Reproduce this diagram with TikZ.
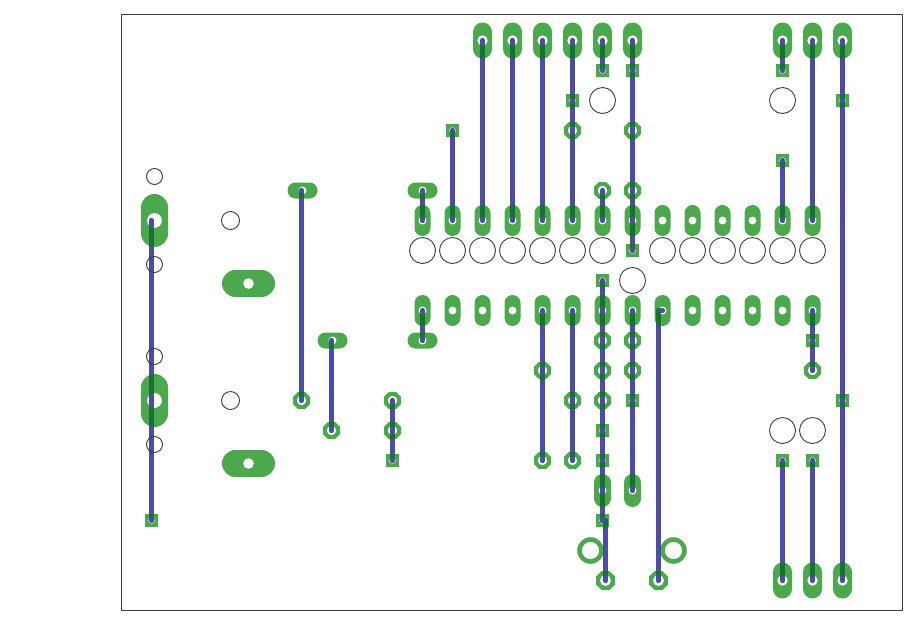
\documentclass[tikz,border=0pt]{standalone}
\definecolor{trackblue}{RGB}{75,75,170}
\definecolor{padgreen}{RGB}{0,131,0}
\definecolor{rimgrey}{RGB}{60,60,60}
\tikzset{
  track/.style={draw=trackblue,line width=5.4pt,line cap=round,line join=round},
  copper/.style={fill=padgreen,fill opacity=.7,even odd rule,draw=none},
  drill/.style={draw=rimgrey,line width=.9pt,fill=none},
  frame/.style={draw=rimgrey,line width=.9pt,fill=none}
}
% x,y,half width,half height,hole radius
\newcommand{\ovalpad}[5]{\fill[copper,rounded corners=0pt]
  \ifdim #3pt<#4pt
    (#1-#3,#2-#4+#3) arc[start angle=180,end angle=360,radius=#3] -- (#1+#3,#2+#4-#3) arc[start angle=0,end angle=180,radius=#3] -- cycle
  \else
    (#1-#3+#4,#2-#4) -- (#1+#3-#4,#2-#4) arc[start angle=-90,end angle=90,radius=#4] -- (#1-#3+#4,#2+#4) arc[start angle=90,end angle=270,radius=#4] -- cycle
  \fi
  (#1,#2) circle[radius=#5];}
\newcommand{\sqpad}[2]{\fill[copper] (#1-6.5,#2-6.5) rectangle (#1+6.5,#2+6.5) (#1,#2) circle[radius=3.3];}
% x,y,half width,hole radius
\newcommand{\octpad}[4]{\fill[copper]
  (#1-#3,#2-.42*#3) -- (#1-.42*#3,#2-#3) -- (#1+.42*#3,#2-#3) -- (#1+#3,#2-.42*#3) --
  (#1+#3,#2+.42*#3) -- (#1+.42*#3,#2+#3) -- (#1-.42*#3,#2+#3) -- (#1-#3,#2+.42*#3) -- cycle
  (#1,#2) circle[radius=#4];}
\begin{document}
\begin{tikzpicture}[x=1pt,y=-1pt]
\useasboundingbox (0,0) rectangle (904,622);
\draw[frame] (121.5,14.5) rectangle (902.5,610.5);
% tracks
\foreach \xa/\ya/\xb/\yb in {
  151.5/220.5/151.5/520.5, 301.5/190.5/301.5/400.5, 331.5/340.5/331.5/430.5,
  392.5/400.5/392.5/460.5, 422.5/190.5/422.5/220.5, 422.5/310.5/422.5/340.5,
  452.5/130.5/452.5/220.5, 482.5/40.5/482.5/220.5, 512.5/40.5/512.5/220.5,
  542.5/40.5/542.5/220.5, 572.5/40.5/572.5/220.5, 602.5/40.5/602.5/70.5,
  632.5/40.5/632.5/250.5, 602.5/190.5/602.5/220.5, 782.5/40.5/782.5/70.5,
  812.5/40.5/812.5/220.5, 842.5/40.5/842.5/580.5, 782.5/160.5/782.5/220.5,
  812.5/310.5/812.5/370.5, 542.5/310.5/542.5/460.5, 572.5/310.5/572.5/460.5,
  602.5/280.5/602.5/520.5, 632.5/310.5/632.5/490.5,
  782.5/460.5/782.5/580.5, 812.5/460.5/812.5/580.5}
  {\draw[track] (\xa,\ya) -- (\xb,\yb);}
\draw[track] (602.5,520.5) -- (605.5,520.5) -- (605.5,580.5);
\draw[track] (662.5,310.5) -- (658.5,310.5) -- (658.5,580.5);
% long top and bottom pads
\foreach \px/\py in {482.5/40.5,512.5/40.5,542.5/40.5,572.5/40.5,602.5/40.5,632.5/40.5,
  782.5/40.5,812.5/40.5,842.5/40.5,782.5/580.5,812.5/580.5,842.5/580.5}
  {\ovalpad{\px}{\py}{9.5}{18}{5.3}}
% socket rows
\foreach \px in {422.5,452.5,482.5,512.5,542.5,572.5,602.5,632.5,662.5,692.5,722.5,752.5,782.5,812.5}
  {\ovalpad{\px}{220.5}{8}{15.5}{4.1}\ovalpad{\px}{310.5}{8}{15.5}{4.1}}
\foreach \px in {602.5,632.5}{\ovalpad{\px}{490.5}{8.5}{16.5}{4.1}}
% horizontal pads
\foreach \px/\py in {422.5/190.5,422.5/340.5,302.5/190.5,332.5/340.5}
  {\ovalpad{\px}{\py}{15}{8}{4.1}}
\foreach \py in {220.5,400.5}{\ovalpad{154.5}{\py}{13.5}{26.5}{7.5}}
\foreach \py in {283.5,463.5}{\ovalpad{248.5}{\py}{26.5}{13.5}{5.5}}
% square pads
\foreach \px/\py in {151.5/520.5,392.5/460.5,452.5/130.5,572.5/100.5,602.5/70.5,632.5/70.5,
  632.5/250.5,782.5/70.5,842.5/100.5,842.5/400.5,782.5/160.5,812.5/340.5,602.5/280.5,
  602.5/430.5,602.5/460.5,602.5/520.5,632.5/400.5,782.5/460.5,812.5/460.5}
  {\sqpad{\px}{\py}}
% octagon pads
\foreach \px/\py in {301.5/400.5,331.5/430.5,392.5/400.5,392.5/430.5,572.5/130.5,632.5/130.5,
  632.5/190.5,602.5/190.5,812.5/370.5,542.5/370.5,542.5/460.5,572.5/400.5,572.5/460.5,
  602.5/340.5,602.5/370.5,602.5/400.5,632.5/340.5,632.5/370.5}
  {\octpad{\px}{\py}{8.5}{4.8}}
\foreach \px in {605.5,658.5}{\octpad{\px}{580.5}{9.5}{5.6}}
% rings
\foreach \px in {590.5,673.5}{\fill[copper] (\px,550.5) circle[radius=13.3] (\px,550.5) circle[radius=8.7];}
% drills
\foreach \px/\py/\pr in {422.5/250.5/13,452.5/250.5/13,482.5/250.5/13,512.5/250.5/13,542.5/250.5/13,
  572.5/250.5/13,602.5/250.5/13,662.5/250.5/13,692.5/250.5/13,722.5/250.5/13,752.5/250.5/13,
  782.5/250.5/13,812.5/250.5/13,632.5/280.5/13,602.5/100.5/13,782.5/100.5/13,782.5/430.5/13,
  812.5/430.5/13,154.5/176.5/8,154.5/264.5/8,154.5/356.5/8,154.5/444.5/8,230.5/220.5/9,230.5/400.5/9}
  {\draw[drill] (\px,\py) circle[radius=\pr];}
\end{tikzpicture}
\end{document}
